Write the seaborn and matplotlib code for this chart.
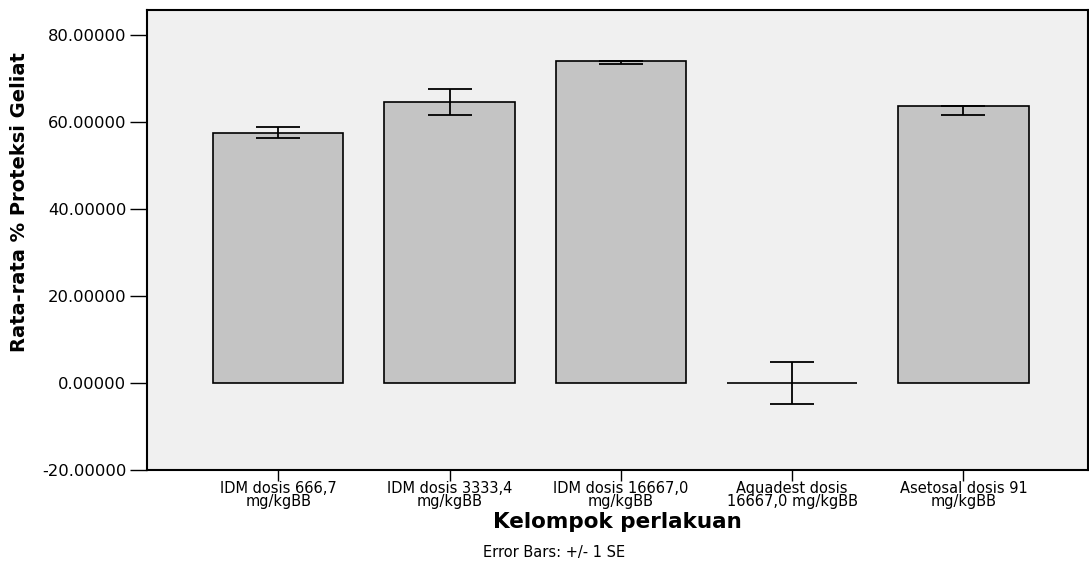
import pandas as pd
import matplotlib
matplotlib.use('Agg')
import matplotlib.pyplot as plt
import seaborn as sns
import numpy as np

kelompok = ['IDM dosis 666,7\nmg/kgBB', 'IDM dosis 3333,4\nmg/kgBB', 'IDM dosis 16667,0\nmg/kgBB',
            'Aquadest dosis\n16667,0 mg/kgBB', 'Asetosal dosis 91\nmg/kgBB']
rata = [57.5, 64.5, 73.95, 0.0, 63.6]
# error bar extents (+/- 1 SE)
se_bawah = [1.3, 3.0, 0.65, 4.9, 2.1]
se_atas = [1.35, 3.0, 0.0, 4.75, 0.0]
yticks = [-20, 0, 20, 40, 60, 80]

df = pd.DataFrame({'Kelompok': kelompok, 'Rata': rata})

sns.set_style('white')
plt.rcParams['font.family'] = ['DejaVu Sans']
plt.rcParams['text.color'] = 'black'
plt.rcParams['axes.labelcolor'] = 'black'
plt.rcParams['xtick.color'] = 'black'
plt.rcParams['ytick.color'] = 'black'

fig = plt.figure(figsize=(10.89, 5.67), dpi=100)
ax = fig.add_axes([147/1089, 1-470/567, 1-147/1089-0.0005, 460/567])
ax.set_facecolor('#F0F0F0')

sns.barplot(data=df, x='Kelompok', y='Rata', color='#C4C4C4', edgecolor='black',
            linewidth=1.2, width=0.76, saturation=1, errorbar=None, ax=ax)
ax.errorbar(np.arange(len(rata)), rata, yerr=[se_bawah, se_atas], fmt='none',
            ecolor='black', elinewidth=1.3, capsize=16, capthick=1.3, zorder=5)

ax.set_ylim(-20, 85.67)
ax.set_xlim(-0.766, 4.73)
ax.set_yticks(yticks)
ax.set_yticklabels(['%.5f' % v for v in yticks], fontsize=11.8)
ax.tick_params(axis='y', direction='out', length=12, width=1, left=True, pad=3)
ax.tick_params(axis='x', direction='out', length=8, width=1, bottom=True, pad=0, labelsize=10.5)
plt.setp(ax.get_xticklabels(), linespacing=0.85)

for s in ax.spines.values():
    s.set_color('black')
    s.set_linewidth(1.5)

ax.set_xlabel('Kelompok perlakuan', fontsize=15.5, fontweight='bold', labelpad=2)
ax.set_ylabel('Rata-rata % Proteksi Geliat', fontsize=14, fontweight='bold')
ax.yaxis.set_label_coords(-0.125, 0.583)

fig.text(554/1089, 1-553/567, 'Error Bars: +/- 1 SE', ha='center', va='center', fontsize=10.5)

fig.savefig('out.png', dpi=100)
